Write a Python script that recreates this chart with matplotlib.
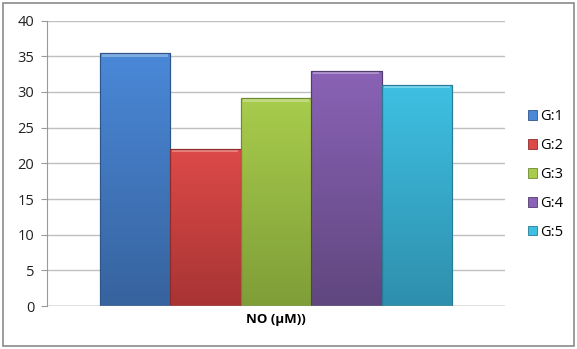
import numpy as np
import matplotlib
matplotlib.use("Agg")
import matplotlib.pyplot as plt
from matplotlib.patches import Rectangle, Patch
from matplotlib.colors import LinearSegmentedColormap

# data
groups = ["G:1", "G:2", "G:3", "G:4", "G:5"]
values = [35.4, 22.0, 29.1, 33.0, 31.0]
category = "NO (\u03bcM))"

# top / bottom shades of each bar (gradient like the Excel style)
tops = ["#4a88d8", "#dc4a48", "#a8cc4c", "#8a62b6", "#3ec0e2"]
bottoms = ["#37639e", "#a83434", "#7f9e38", "#60477f", "#2f8fad"]
edges = ["#2f5487", "#8f2b2b", "#6d8a2e", "#523b6e", "#267c96"]

plt.rcParams['font.family'] = ['Open Sans', 'DejaVu Sans']

fig = plt.figure(figsize=(5.77, 3.49), dpi=100)
ax = fig.add_axes([0.081, 0.123, 0.794, 0.818])

x = np.arange(len(groups))
bars = ax.bar(x, values, width=1.0, color=tops, edgecolor=edges, linewidth=0.8, zorder=3)

# vertical gradient inside each bar
for b, t, bt in zip(bars, tops, bottoms):
    cmap = LinearSegmentedColormap.from_list("g", [bt, t])
    bx, by = b.get_x(), b.get_y()
    w, h = b.get_width(), b.get_height()
    grad = np.linspace(0, 1, 100).reshape(-1, 1)
    im = ax.imshow(grad, cmap=cmap, origin="lower", aspect="auto",
                   extent=(bx, bx + w, by, by + h), zorder=3.5)
    im.set_clip_path(b)
    # light bevel strip on top
    ax.add_patch(Rectangle((bx + 0.03, by + h - 0.45), w - 0.06, 0.45,
                           facecolor="white", alpha=0.3, edgecolor="none", zorder=3.6))
    ax.add_patch(Rectangle((bx, by), w, h, facecolor="none",
                           edgecolor=b.get_edgecolor(), linewidth=0.8, zorder=3.7))

ax.set_xlim(-1.25, 5.25)
ax.set_ylim(0, 40)
ax.set_yticks(range(0, 41, 5))
ax.set_xticks([])
ax.yaxis.grid(True, color="#c0c0c0", linewidth=1.0, zorder=0)
for s in ["top", "right", "bottom"]:
    ax.spines[s].set_visible(False)
ax.spines["left"].set_color("#9a9a9a")
ax.axhline(0, color="#9a9a9a", linewidth=1.0, zorder=4)
ax.tick_params(axis="y", length=4, color="#9a9a9a", labelsize=10.5, pad=5, labelcolor="#222222")
ax.set_xlabel(category, fontsize=9.5, fontweight="bold", labelpad=5)

handles = [Patch(facecolor=c, edgecolor=e, linewidth=0.6) for c, e in zip(tops, edges)]
fig.legend(handles, groups, loc="center left", bbox_to_anchor=(0.905, 0.5),
           frameon=False, fontsize=10.5, handlelength=0.65, handleheight=0.65,
           handletextpad=0.2, labelspacing=0.95, borderaxespad=0)

fig.patches.append(Rectangle((0.006, 0.008), 0.988, 0.984, transform=fig.transFigure,
                             fill=False, edgecolor="#8a8a8a", linewidth=1.2))

fig.savefig("out.png", dpi=100)
